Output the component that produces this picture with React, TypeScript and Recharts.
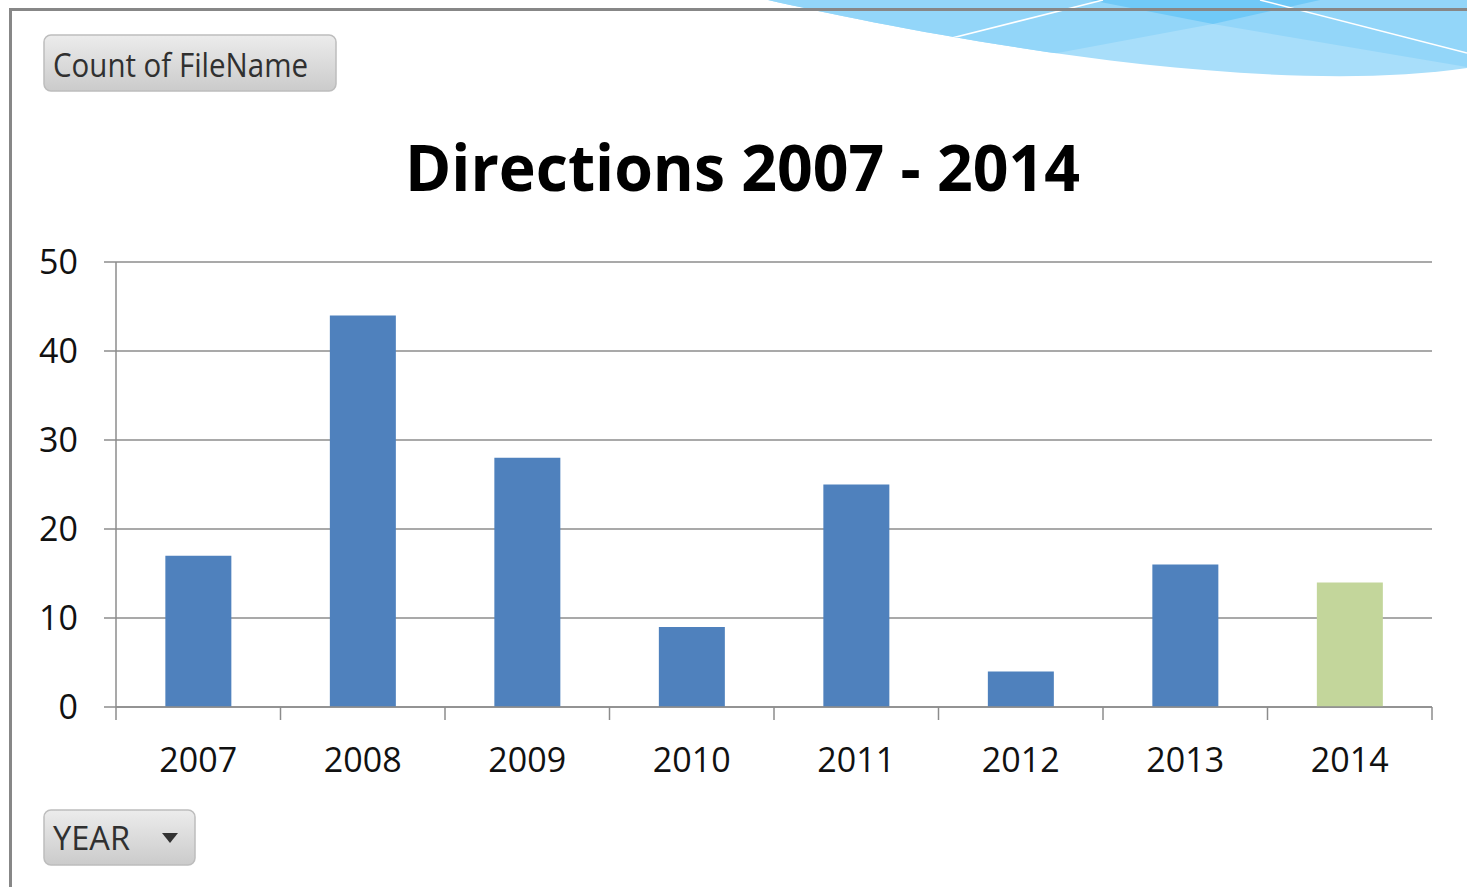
import React from 'react';
import { BarChart, Bar, XAxis, YAxis, CartesianGrid, Cell } from 'recharts';

const categories = ['2007', '2008', '2009', '2010', '2011', '2012', '2013', '2014'];
const counts = [17, 44, 28, 9, 25, 4, 16, 14];
const barColors = ['#4F81BD', '#4F81BD', '#4F81BD', '#4F81BD', '#4F81BD', '#4F81BD', '#4F81BD', '#C3D69B'];
const yTicks = [0, 10, 20, 30, 40, 50];
const titleText = 'Directions 2007 - 2014';
const valueButton = 'Count of FileName';
const axisButton = 'YEAR';

const data = categories.map((year, i) => ({ year, count: counts[i] }));

const FONT = '"Open Sans", "Noto Sans", sans-serif';
const GRID = '#8c8c8c';

const XTick = (props: any) => {
  const { x, y, payload, index, visibleTicksCount, width } = props;
  const half = payload && payload.offset ? payload.offset : width / (visibleTicksCount || categories.length) / 2;
  const last = index === (visibleTicksCount || categories.length) - 1;
  return (
    <g>
      <line x1={x - half} x2={x - half} y1={y} y2={y + 13} stroke={GRID} strokeWidth={1.5} />
      {last ? <line x1={x + half} x2={x + half} y1={y} y2={y + 13} stroke={GRID} strokeWidth={1.5} /> : null}
      <text x={x} y={y + 65} textAnchor="middle" fontSize={34} fontFamily={FONT} fill="#111">
        {payload.value}
      </text>
    </g>
  );
};

const Decoration = () => (
  <svg width={1467} height={887} style={{ position: 'absolute', left: 0, top: 0 }}>
    <defs>
      <clipPath id="wave">
        <path d="M 768 0 C 900 30, 1250 100, 1467 68 L 1467 0 Z" />
      </clipPath>
      <linearGradient id="btn" x1="0" y1="0" x2="0" y2="1">
        <stop offset="0" stopColor="#ECECEC" />
        <stop offset="1" stopColor="#CBCBCB" />
      </linearGradient>
    </defs>
    <g clipPath="url(#wave)">
      <rect x={740} y={0} width={740} height={100} fill="#A8DEFA" />
      <polygon points="740,0 740,112 1213,24 1467,67 1467,0" fill="#93D6F9" />
      <polygon points="1090,0 1213,24 1320,0" fill="#70C9F7" />
      <line x1={940} y1={41} x2={1103} y2={0} stroke="#fff" strokeWidth={1.5} />
      <line x1={1260} y1={0} x2={1467} y2={53} stroke="#fff" strokeWidth={1.5} />
    </g>
    <rect x={10} y={8} width={1457} height={3} fill="#878787" />
    <rect x={9} y={8} width={3} height={879} fill="#878787" />

    <rect x={44} y={35} width={292} height={56} rx={7} fill="url(#btn)" stroke="#BDBDBD" strokeWidth={1.5} />
    <text x={53} y={77} fontSize={32} fontFamily={FONT} fill="#303030" textLength={255} lengthAdjust="spacingAndGlyphs">
      {valueButton}
    </text>

    <text x={405} y={191} fontSize={64} fontWeight="bold" fontFamily={FONT} fill="#000" textLength={675} lengthAdjust="spacingAndGlyphs">
      {titleText}
    </text>

    <rect x={44} y={810} width={151} height={55} rx={7} fill="url(#btn)" stroke="#BDBDBD" strokeWidth={1.5} />
    <text x={53} y={850} fontSize={32} fontFamily={FONT} fill="#303030" textLength={77} lengthAdjust="spacingAndGlyphs">
      {axisButton}
    </text>
    <polygon points="162,833 178,833 170,843" fill="#333" />
  </svg>
);

export default function App() {
  return (
    <div style={{ position: 'fixed', left: 0, top: 0, width: 1467, height: 887, background: '#fff', overflow: 'hidden', fontFamily: FONT }}>
      <Decoration />
      <div style={{ position: 'absolute', left: 0, top: 0 }}>
        <BarChart width={1467} height={887} data={data} margin={{ top: 262, right: 35, bottom: 120, left: 0 }} barCategoryGap="30%">
          <CartesianGrid vertical={false} stroke={GRID} strokeWidth={1.5} />
          <XAxis
            dataKey="year"
            height={60}
            interval={0}
            tickSize={0}
            tickMargin={0}
            tickLine={false}
            axisLine={{ stroke: GRID, strokeWidth: 1.5 }}
            tick={<XTick />}
          />
          <YAxis
            width={116}
            domain={[0, 50]}
            ticks={yTicks}
            interval={0}
            tickSize={12}
            tickMargin={26}
            axisLine={{ stroke: GRID, strokeWidth: 1.5 }}
            tickLine={{ stroke: GRID, strokeWidth: 1.5 }}
            tick={{ fontSize: 34, fill: '#111', fontFamily: FONT }}
          />
          <Bar dataKey="count" isAnimationActive={false}>
            {data.map((d, i) => (
              <Cell key={d.year} fill={barColors[i]} />
            ))}
          </Bar>
        </BarChart>
      </div>
    </div>
  );
}
